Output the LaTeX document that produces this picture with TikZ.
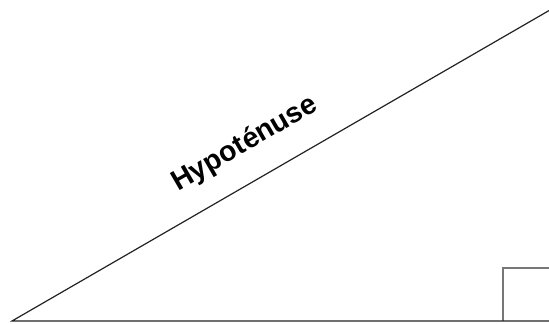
\documentclass[tikz,border=0pt]{standalone}
\usepackage{fontspec}
\setmainfont{Liberation Sans}
\usetikzlibrary{calc}
\definecolor{edgeGray}{HTML}{222222}
\definecolor{boxGray}{HTML}{777777}

\begin{document}
\begin{tikzpicture}[x=1pt,y=1pt]
  \useasboundingbox (0,0) rectangle (549,324);
  % Corners of the triangle
  \coordinate (left) at (12,3);
  \coordinate (right) at (550,3);
  \coordinate (top) at (550,314);

  % Right-angle mark
  \draw[boxGray,line width=1.2pt] (503,3) -- (503,56) -- (550,56);

  % Sides
  \draw[edgeGray,line width=1.2pt,line join=miter] (left) -- (right) -- (top) -- cycle;

  % Label on the long side
  \node[font=\fontsize{28.5}{32}\selectfont\bfseries,rotate=30.07] (hyp) at (245,180) {Hypoténuse};
\end{tikzpicture}
\end{document}
